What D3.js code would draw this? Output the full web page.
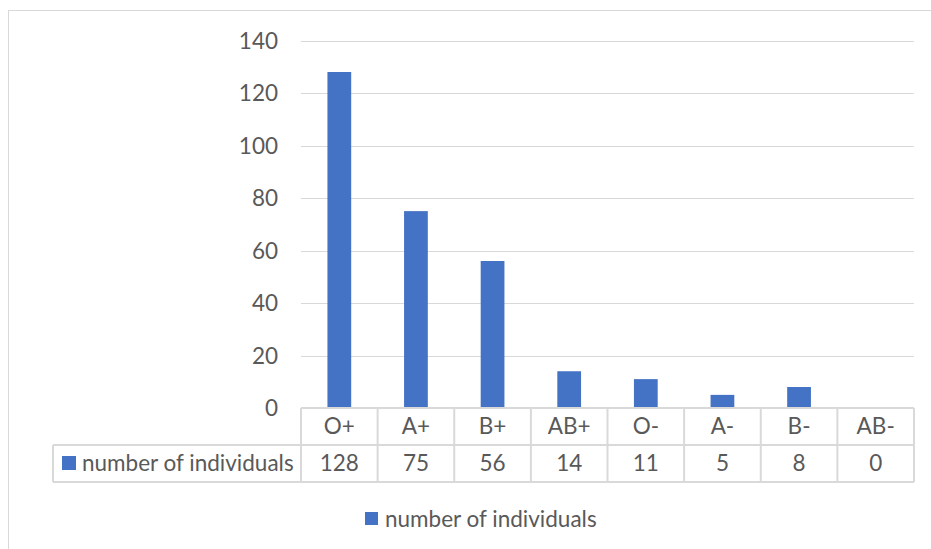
<!DOCTYPE html>
<html>
<head>
<meta charset="utf-8">
<script src="https://cdn.jsdelivr.net/npm/d3@7"></script>
<style>
  html, body { margin: 0; padding: 0; background: #fff; }
  svg { display: block; }
  text { font-family: Lato, "Open Sans", sans-serif; fill: #595959; }
</style>
</head>
<body>
<svg id="chart" width="931" height="549"></svg>
<script>
// Blood group counts
const categories = ["O+", "A+", "B+", "AB+", "O-", "A-", "B-", "AB-"];
const values = [128, 75, 56, 14, 11, 5, 8, 0];
const seriesName = "number of individuals";
const yTicks = [0, 20, 40, 60, 80, 100, 120, 140];

const svg = d3.select("#chart");
const W = 931, H = 549;
const barColor = "#4472c4";
const lineColor = "#d9d9d9";
const fontSize = 22.5;

// chart frame
svg.append("rect")
  .attr("x", 8.5).attr("y", 10.5)
  .attr("width", W + 10).attr("height", H + 10)
  .attr("fill", "none").attr("stroke", lineColor);

const plotLeft = 301, plotRight = 914, plotTop = 40.5, plotBottom = 408;
const tableLeft = 53, rowH = 37;

const x = d3.scaleBand().domain(categories).range([plotLeft, plotRight]).paddingInner(0).paddingOuter(0);
const y = d3.scaleLinear().domain([0, 140]).range([plotBottom, plotTop]);

// gridlines
svg.append("g").selectAll("line").data(yTicks).join("line")
  .attr("x1", plotLeft).attr("x2", plotRight)
  .attr("y1", d => Math.round(y(d)) + 0.5).attr("y2", d => Math.round(y(d)) + 0.5)
  .attr("stroke", lineColor).attr("stroke-width", 1);

// y axis labels
const yAxis = d3.axisLeft(y).tickValues(yTicks).tickSize(0).tickPadding(0);
const gy = svg.append("g").attr("transform", `translate(${278},0)`).call(yAxis);
gy.select(".domain").remove();
gy.selectAll("text")
  .attr("font-size", fontSize)
  .attr("font-family", "Lato, 'Open Sans', sans-serif")
  .attr("fill", "#595959")
  .attr("dy", "0.35em");

// bars
const barW = x.bandwidth() * 0.31;
svg.append("g").selectAll("rect").data(values).join("rect")
  .attr("x", (d, i) => x(categories[i]) + (x.bandwidth() - barW) / 2)
  .attr("y", d => y(d))
  .attr("width", barW)
  .attr("height", d => y(0) - y(d))
  .attr("fill", barColor);

// data table
const row1Top = plotBottom, row2Top = plotBottom + rowH, row2Bottom = plotBottom + 2 * rowH;
const tg = svg.append("g").attr("stroke", lineColor).attr("stroke-width", 2);
tg.append("line").attr("x1", plotLeft).attr("x2", plotRight).attr("y1", row1Top).attr("y2", row1Top);
tg.append("line").attr("x1", tableLeft).attr("x2", plotRight).attr("y1", row2Top).attr("y2", row2Top);
tg.append("line").attr("x1", tableLeft).attr("x2", plotRight).attr("y1", row2Bottom).attr("y2", row2Bottom);
tg.append("line").attr("x1", tableLeft).attr("x2", tableLeft).attr("y1", row2Top).attr("y2", row2Bottom);
const bounds = categories.map(c => x(c)).concat([plotRight]);
tg.selectAll("line.v").data(bounds).join("line").attr("class", "v")
  .attr("x1", d => d).attr("x2", d => d).attr("y1", row1Top).attr("y2", row2Bottom);

// category row
svg.append("g").selectAll("text").data(categories).join("text")
  .attr("x", d => x(d) + x.bandwidth() / 2)
  .attr("y", row1Top + rowH / 2)
  .attr("dy", "0.35em")
  .attr("text-anchor", "middle")
  .attr("font-size", fontSize)
  .text(d => d);

// value row
svg.append("g").selectAll("text").data(values).join("text")
  .attr("x", (d, i) => x(categories[i]) + x.bandwidth() / 2)
  .attr("y", row2Top + rowH / 2)
  .attr("dy", "0.35em")
  .attr("text-anchor", "middle")
  .attr("font-size", fontSize)
  .text(d => d);

// series key inside table
svg.append("rect").attr("x", 62).attr("y", 456).attr("width", 14).attr("height", 14).attr("fill", barColor);
svg.append("text").attr("x", 82).attr("y", row2Top + rowH / 2).attr("dy", "0.35em")
  .attr("font-size", fontSize).text(seriesName);

// legend
svg.append("rect").attr("x", 365).attr("y", 512).attr("width", 13).attr("height", 13).attr("fill", barColor);
svg.append("text").attr("x", 385).attr("y", 519).attr("dy", "0.35em")
  .attr("font-size", fontSize).text(seriesName);
</script>
</body>
</html>
